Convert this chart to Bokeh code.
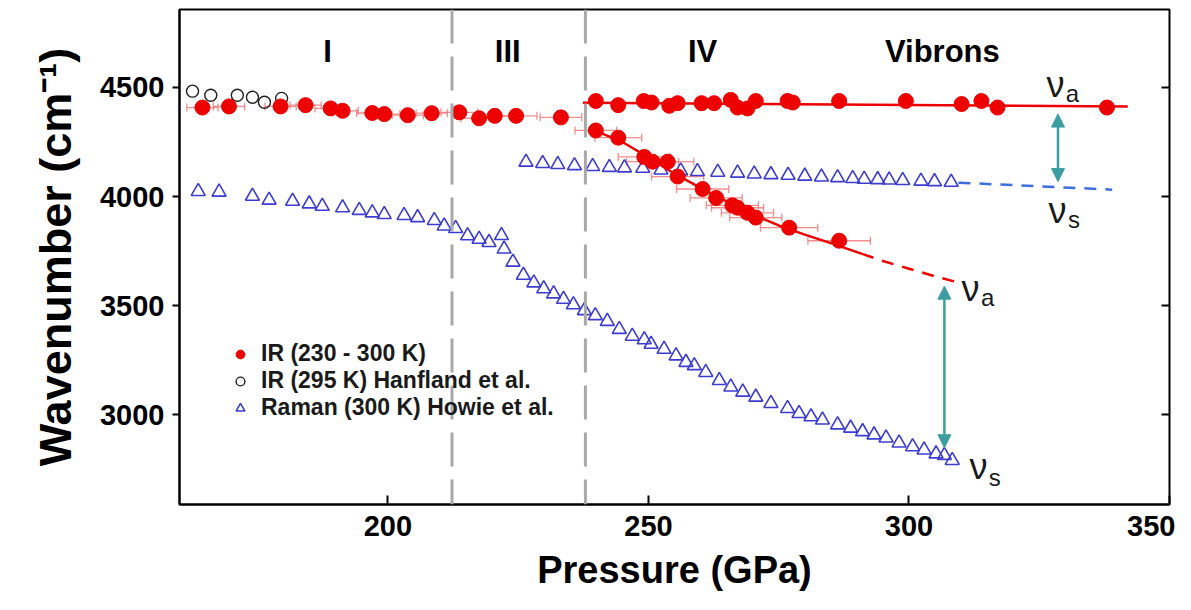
from bokeh.plotting import figure
from bokeh.models import (Range1d, FixedTicker, LinearAxis, Legend, LegendItem,
                          Whisker, TeeHead, ColumnDataSource, Arrow, NormalHead, Span)
from bokeh.embed import file_html
from bokeh.resources import INLINE
from bokeh.core.properties import value

# ---------------- data ----------------
# IR (230-300 K), phases I / III branch
ir_low_p = [164.4, 169.5, 179.4, 184.2, 189.0, 191.3, 197.0, 199.3, 203.8, 208.4, 213.7, 217.5, 220.5, 224.6, 233.2]
ir_low_w = [4408, 4413, 4413, 4419, 4404, 4393, 4383, 4378, 4373, 4382, 4386, 4359, 4370, 4370, 4363]
ir_low_err = [3, 3, 3, 3, 3, 3, 3, 3, 3, 3, 3.5, 3.5, 3.5, 4, 4]

# IR phase IV, high vibron (nu_a)
ir_hi_p = [239.9, 244.2, 249.1, 250.6, 254.0, 255.6, 260.2, 262.6, 265.8, 267.1, 269.0, 270.6,
           276.7, 277.7, 286.6, 299.4, 310.1, 313.9, 317.0, 338.0]
ir_hi_w = [4438, 4419, 4438, 4431, 4416, 4428, 4428, 4428, 4443, 4408, 4404, 4438,
           4438, 4431, 4438, 4438, 4424, 4438, 4408, 4408]

# IR phase IV, descending vibron (nu_a)
ir_dn_p = [239.9, 244.2, 249.2, 250.8, 253.7, 255.6, 260.4, 263.0, 266.1, 267.1, 269.0, 270.6, 277.0, 286.6]
ir_dn_w = [4303, 4270, 4182, 4160, 4160, 4092, 4035, 3994, 3960, 3949, 3926, 3904, 3858, 3798]
ir_dn_err = [4, 4.5, 5, 5, 5, 5, 5, 5, 5, 5, 5, 5, 5.5, 6]

# IR (295 K) Hanfland et al.
han_p = [162.5, 166.0, 171.1, 174.0, 176.3, 179.6]
han_w = [4483, 4464, 4464, 4455, 4432, 4450]

# Raman (300 K) Howie et al. - lower branch
ram_lo_p = [163.6, 167.6, 174.0, 177.2, 181.7, 184.9, 187.4, 191.3, 194.5, 197.0, 199.3, 203.1,
            205.7, 208.9, 210.8, 213.0, 215.3, 217.5, 219.4, 221.8, 222.3, 224.0, 226.0, 228.0,
            229.9, 231.8, 233.7, 235.6, 237.7, 239.8, 242.1, 244.4, 246.9, 249.2, 250.5, 253.0,
            255.3, 257.2, 258.8, 261.0, 263.6, 265.8, 268.1, 270.6, 273.5, 276.7, 278.9, 281.2,
            283.4, 286.3, 288.8, 291.1, 293.3, 295.6, 298.1, 300.7, 302.9, 305.2, 306.8, 308.3]
ram_lo_w = [4024, 4021, 4002, 3984, 3979, 3967, 3956, 3949, 3937, 3926, 3918, 3914,
            3904, 3891, 3866, 3854, 3821, 3805, 3790, 3822, 3760, 3700, 3640, 3605,
            3578, 3555, 3530, 3505, 3478, 3455, 3429, 3392, 3361, 3345, 3324, 3301,
            3271, 3241, 3226, 3195, 3158, 3128, 3105, 3082, 3053, 3030, 3007, 2992,
            2977, 2955, 2940, 2924, 2909, 2895, 2872, 2855, 2840, 2822, 2815, 2792]

# Raman - upper branch (phase IV)
ram_hi_p = [226.5, 229.7, 232.6, 235.8, 239.3, 242.5, 245.4, 248.9, 252.4, 256.2, 259.4, 263.3,
            267.1, 270.3, 273.5, 276.8, 280.0, 283.2, 286.3, 289.2, 291.4, 294.0, 296.2, 298.8,
            302.3, 304.9, 308.1]
ram_hi_w = [4158, 4152, 4147, 4142, 4138, 4134, 4132, 4130, 4122, 4118, 4115, 4112,
            4108, 4104, 4101, 4098, 4094, 4090, 4087, 4083, 4080, 4078, 4076, 4074,
            4071, 4069, 4066]

# fit lines
fit_hi_p = [237.4, 342.0]
fit_hi_w = [4430, 4413]
fit_dn_p = [239.0, 245.0, 250.0, 255.0, 260.0, 265.0, 270.0, 275.0, 280.0, 285.0, 291.0]
fit_dn_w = [4310, 4250, 4180, 4105, 4040, 3978, 3918, 3868, 3826, 3787, 3738]
ext_dn_p = [291.0, 295.0, 300.0, 305.0, 310.0]
ext_dn_w = [3738, 3705, 3670, 3635, 3603]
ext_ram_p = [309.5, 339.0]
ext_ram_w = [4064, 4032]

# phase boundaries and labels
phase_bounds = [212.3, 237.9]
phase_names = ["I", "III", "IV", "Vibrons"]
phase_x = [188.4, 223.0, 260.4, 306.4]
phase_y = [4665, 4665, 4665, 4665]

# vibron arrows (splitting)
arrow_p = [328.6, 306.8]
arrow_top = [4378, 3590]
arrow_bot = [4069, 2850]

# nu labels
nu_x = [326.4, 326.8, 310.1, 311.6]
nu_y = [4515, 3935, 3580, 2765]
sub_text = ["a", "s", "a", "s"]
sub_x = [330.1, 330.5, 313.8, 315.3]
sub_y = [4473, 3893, 3538, 2714]

x_ticks = [200, 250, 300, 350]
y_ticks = [3000, 3500, 4000, 4500]

# ---------------- styles ----------------
RED = "#ee0000"
ERR = "#f07a7a"
BLUE = "#3c3cd0"
DBLUE = "#3d6fdc"
TEAL = "#3c9ea0"
FONT = "Liberation Sans"

p = figure(width=1175, height=594, output_backend="svg", toolbar_location=None,
           x_range=Range1d(160, 350), y_range=Range1d(2590, 4857),
           min_border_left=179, min_border_right=6, min_border_top=9, min_border_bottom=90)
p.grid.visible = False
p.outline_line_color = "black"
p.outline_line_width = 2
p.background_fill_color = "white"
p.border_fill_color = "white"

for ax in (p.xaxis[0], p.yaxis[0]):
    ax.axis_line_width = 2
    ax.major_tick_line_width = 2
    ax.minor_tick_line_color = None
    ax.major_label_text_font = FONT
    ax.major_label_text_font_style = "bold"
    ax.major_label_text_font_size = "29px"
    ax.major_label_text_color = "black"
    ax.axis_label_text_font = FONT
    ax.axis_label_text_font_style = "bold"
    ax.axis_label_text_color = "black"

p.xaxis.axis_label_text_font_size = "38px"
p.yaxis.axis_label_text_font_size = "45px"
p.xaxis.ticker = FixedTicker(ticks=x_ticks)
p.yaxis.ticker = FixedTicker(ticks=y_ticks)
p.xaxis.axis_label = "Pressure (GPa)"
p.yaxis.axis_label = "Wavenumber (cm⁻¹)"
p.xaxis.major_tick_in = 9
p.xaxis.major_tick_out = 0
p.xaxis.major_label_standoff = 11
p.xaxis.axis_label_standoff = 10
p.yaxis.major_tick_in = 0
p.yaxis.major_tick_out = 7
p.yaxis.major_label_standoff = 8
p.yaxis.axis_label_standoff = 16

rax = LinearAxis(ticker=FixedTicker(ticks=y_ticks), major_label_text_font_size="1px",
                 major_label_text_color=None,
                 major_tick_in=8, major_tick_out=0, major_tick_line_width=2,
                 minor_tick_line_color=None, axis_line_color=None, major_label_standoff=0)
p.add_layout(rax, "right")

for b in phase_bounds:
    p.add_layout(Span(location=b, dimension="height", line_color="#a9a9a9",
                      line_width=3, line_dash="34 13"))

# Raman
r_ram = p.scatter(ram_lo_p, ram_lo_w, marker="triangle", size=14, fill_color=None,
                  line_color=BLUE, line_width=1.6)
p.scatter(ram_hi_p, ram_hi_w, marker="triangle", size=14, fill_color=None,
          line_color=BLUE, line_width=1.6)
p.line(ext_ram_p, ext_ram_w, line_color=DBLUE, line_width=2.5, line_dash="12 9")

# Hanfland
r_han = p.scatter(han_p, han_w, marker="circle", size=12, fill_color=None,
                  line_color="#222222", line_width=1.4)

# error bars
src_low = ColumnDataSource(dict(w=ir_low_w,
                                lo=[a - e for a, e in zip(ir_low_p, ir_low_err)],
                                hi=[a + e for a, e in zip(ir_low_p, ir_low_err)]))
src_dn = ColumnDataSource(dict(w=ir_dn_w,
                               lo=[a - e for a, e in zip(ir_dn_p, ir_dn_err)],
                               hi=[a + e for a, e in zip(ir_dn_p, ir_dn_err)]))
for s in (src_low, src_dn):
    p.add_layout(Whisker(source=s, base="w", lower="lo", upper="hi", dimension="width",
                         line_color=ERR, line_width=1.3, line_alpha=0.85,
                         lower_head=TeeHead(size=8, line_color=ERR, line_width=1.3, line_alpha=0.85),
                         upper_head=TeeHead(size=8, line_color=ERR, line_width=1.3, line_alpha=0.85)))

# fit lines
p.line(fit_hi_p, fit_hi_w, line_color=RED, line_width=2.5)
p.line(fit_dn_p, fit_dn_w, line_color=RED, line_width=2.5)
p.line(ext_dn_p, ext_dn_w, line_color=RED, line_width=2.5, line_dash="12 9")

# IR points
r_ir = p.scatter(ir_low_p, ir_low_w, marker="circle", size=15, fill_color=RED, line_color=RED)
p.scatter(ir_hi_p, ir_hi_w, marker="circle", size=15, fill_color=RED, line_color=RED)
p.scatter(ir_dn_p, ir_dn_w, marker="circle", size=15, fill_color=RED, line_color=RED)

# arrows
asrc = ColumnDataSource(dict(x=arrow_p, y0=arrow_top, y1=arrow_bot))
p.add_layout(Arrow(source=asrc, x_start="x", y_start="y0", x_end="x", y_end="y1",
                   line_color=TEAL, line_width=2.5,
                   start=NormalHead(size=13, fill_color=TEAL, line_color=TEAL),
                   end=NormalHead(size=13, fill_color=TEAL, line_color=TEAL)))

# labels
p.text(phase_x, phase_y, text=phase_names, text_font=value(FONT), text_font_style="bold",
       text_font_size="31px", text_align="center", text_baseline="middle", text_color="black")
p.text(nu_x, nu_y, text=["ν"] * len(nu_x), text_font=value(FONT), text_font_size="36px",
       text_align="left", text_baseline="alphabetic", text_color="#1a1a1a")
p.text(sub_x, sub_y, text=sub_text, text_font=value(FONT), text_font_size="24px",
       text_align="left", text_baseline="alphabetic", text_color="#1a1a1a")

legend = Legend(items=[LegendItem(label="IR (230 - 300 K)", renderers=[r_ir]),
                       LegendItem(label="IR (295 K) Hanfland et al.", renderers=[r_han]),
                       LegendItem(label="Raman (300 K) Howie et al.", renderers=[r_ram])],
                location=(50, 83), label_text_font=FONT, label_text_font_style="bold",
                label_text_font_size="23px", label_text_color="#1a1a1a",
                background_fill_alpha=0, border_line_color=None, spacing=0,
                glyph_width=22, glyph_height=22, padding=0, label_standoff=10,
                label_height=22)
p.add_layout(legend)

open("out.html", "w").write(file_html(p, INLINE))
